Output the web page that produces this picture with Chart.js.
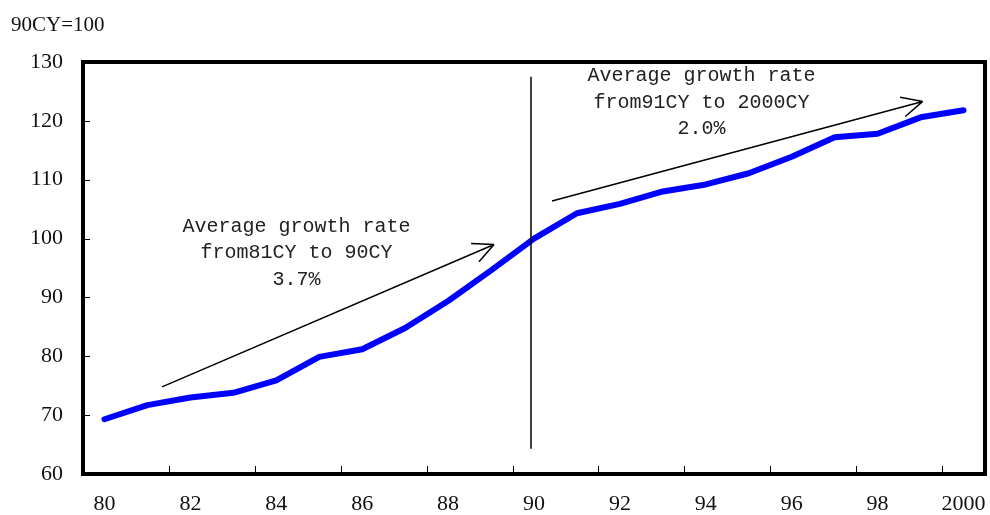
<!DOCTYPE html>
<html>
<head>
<meta charset="utf-8">
<script src="https://cdn.jsdelivr.net/npm/chart.js@4.4.1/dist/chart.umd.min.js"></script>
<style>
  body { margin: 0; background: #fff; }
</style>
</head>
<body>
<canvas id="myChart" width="990" height="515"></canvas>
<script>
const years = ["80", "81", "82", "83", "84", "85", "86", "87", "88", "89", "90",
  "91", "92", "93", "94", "95", "96", "97", "98", "99", "2000"];
const index90 = [69.3, 71.7, 73.0, 73.8, 75.9, 79.9, 81.2, 84.8, 89.4, 94.6, 100,
  104.3, 105.9, 108.0, 109.2, 111.1, 113.9, 117.2, 117.8, 120.6, 121.8];
const yTicks = [60, 70, 80, 90, 100, 110, 120, 130];
const unitLabel = "90CY=100";
const note1 = ["Average growth rate", "from81CY to 90CY", "3.7%"];
const note2 = ["Average growth rate", "from91CY to 2000CY", "2.0%"];

// arrow (category index, value)
function arrow(c, x0, y0, x1, y1) {
  c.beginPath();
  c.moveTo(x0, y0);
  c.lineTo(x1, y1);
  const a = Math.atan2(y1 - y0, x1 - x0);
  const len = 23;
  for (const s of [-0.45, 0.45]) {
    c.moveTo(x1, y1);
    c.lineTo(x1 - len * Math.cos(a + s), y1 - len * Math.sin(a + s));
  }
  c.stroke();
}

const framePlugin = {
  id: "frame",
  afterDraw(chart) {
    const c = chart.ctx;
    const area = chart.chartArea;
    const xs = chart.scales.x;
    const ys = chart.scales.y;
    c.save();

    // notes and arrows
    c.strokeStyle = "#000";
    c.lineWidth = 1.5;
    c.beginPath();
    c.moveTo(xs.getPixelForValue(9.93), ys.getPixelForValue(127.5));
    c.lineTo(xs.getPixelForValue(9.93), ys.getPixelForValue(64.3));
    c.stroke();
    arrow(c, xs.getPixelForValue(1.34), ys.getPixelForValue(74.8),
      xs.getPixelForValue(9.07), ys.getPixelForValue(99.0));
    arrow(c, xs.getPixelForValue(10.42), ys.getPixelForValue(106.4),
      xs.getPixelForValue(19.05), ys.getPixelForValue(123.3));

    c.fillStyle = "#222";
    c.font = "20px 'Liberation Mono'";
    c.textAlign = "center";
    c.textBaseline = "middle";
    note1.forEach((t, i) => {
      c.fillText(t, xs.getPixelForValue(4.47), ys.getPixelForValue(102.1) + i * 26.5);
    });
    note2.forEach((t, i) => {
      c.fillText(t, xs.getPixelForValue(13.9), ys.getPixelForValue(127.6) + i * 26.5);
    });

    // inner tick marks
    c.lineWidth = 1;
    c.beginPath();
    yTicks.forEach((v) => {
      const y = Math.round(ys.getPixelForValue(v)) + 0.5;
      c.moveTo(area.left, y);
      c.lineTo(area.left + 7, y);
    });
    for (let i = 2; i < years.length; i += 2) {
      const x = Math.round(xs.getPixelForValue(i - 0.5)) + 0.5;
      c.moveTo(x, area.bottom);
      c.lineTo(x, area.bottom - 8);
    }
    c.stroke();

    // frame
    c.lineWidth = 4;
    c.strokeRect(area.left, area.top, area.right - area.left, area.bottom - area.top);

    // unit label
    c.fillStyle = "#111";
    c.font = "21px 'Liberation Serif'";
    c.textAlign = "left";
    c.fillText(unitLabel, 11, 25);
    c.restore();
  },
};

document.addEventListener("DOMContentLoaded", () => {
  const ctx = document.getElementById("myChart");
  new Chart(ctx, {
    type: "line",
    data: {
      labels: years,
      datasets: [
        {
          label: "Index",
          data: index90,
          borderColor: "#0000ff",
          borderWidth: 6,
          pointRadius: 0,
          tension: 0,
          borderJoinStyle: "round",
          borderCapStyle: "round",
        },
      ],
    },
    options: {
      responsive: false,
      animation: false,
      layout: { padding: { top: 62, right: 5, left: 0, bottom: 0 } },
      plugins: {
        legend: { display: false },
        tooltip: { enabled: false },
      },
      scales: {
        x: {
          offset: true,
          grid: { display: false, drawTicks: false, offset: true },
          border: { display: false },
          afterFit: (scale) => {
            scale.height = 41;
            scale.paddingLeft = 0;
            scale.paddingRight = 0;
          },
          ticks: {
            autoSkip: false,
            maxRotation: 0,
            padding: 17,
            color: "#111",
            font: { family: "Liberation Serif", size: 22 },
            callback: (v, i) => (i % 2 === 0 ? years[i] : ""),
          },
        },
        y: {
          min: 60,
          max: 130,
          grid: { display: false, drawTicks: false },
          border: { display: false },
          afterFit: (scale) => {
            scale.width = 83;
            scale.paddingTop = 0;
            scale.paddingBottom = 0;
          },
          afterBuildTicks: (scale) => { scale.ticks = yTicks.map((v) => ({ value: v })); },
          ticks: {
            padding: 20,
            color: "#111",
            font: { family: "Liberation Serif", size: 22 },
          },
        },
      },
    },
    plugins: [framePlugin],
  });
});
</script>
</body>
</html>
